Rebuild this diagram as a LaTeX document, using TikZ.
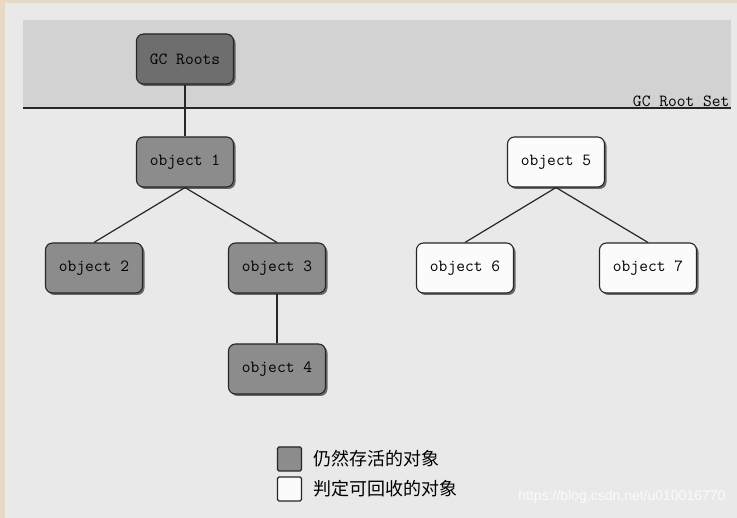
\documentclass[tikz,border=0pt]{standalone}
\usepackage{fontspec}
\newfontfamily\cjk{Noto Sans CJK SC}
\usetikzlibrary{shadows}

\definecolor{pagebeige}{HTML}{E6DAC2}
\definecolor{pagegray}{HTML}{E9E9E9}
\definecolor{rootband}{HTML}{D2D2D2}
\definecolor{rootfill}{HTML}{6E6E6E}
\definecolor{alivefill}{HTML}{8C8C8C}
\definecolor{deadfill}{HTML}{FBFBFB}

\tikzset{
  obj/.style = {draw=black!85, line width=1.1pt, rounded corners=7pt,
                minimum width=97pt, minimum height=50pt,
                font=\ttfamily\fontsize{17}{17}\selectfont,
                drop shadow={shadow xshift=2pt, shadow yshift=-2pt,
                             fill=black!80, opacity=.7}},
  root/.style  = {obj, fill=rootfill},
  alive/.style = {obj, fill=alivefill},
  dead/.style  = {obj, fill=deadfill},
  ref/.style   = {draw=black!85, line width=1.2pt},
  key/.style   = {draw=black!85, line width=1.1pt, rounded corners=1.5pt,
                  minimum size=24pt, inner sep=0pt},
  keytext/.style = {anchor=west, font=\cjk\fontsize{18}{18}\selectfont}
}

\begin{document}
\begin{tikzpicture}[x=1pt, y=-1pt]

	% page and root set band
	\fill[pagebeige] (0,0) rectangle (737,518);
	\fill[pagegray] (5,3) rectangle (737,518);
	\fill[rootband] (23,20) rectangle (731,108);
	\draw[line width=1.3pt, black!85] (23,108) -- (731,108);
	\node[anchor=south east, inner sep=1.5pt, font=\ttfamily\fontsize{17}{17}\selectfont] (rootset) at (731,108) {GC Root Set};

	% objects
	\node[root]  (roots) at (185,59)  {GC Roots};
	\node[alive] (o1)    at (185,162) {object 1};
	\node[alive] (o2)    at (94,268)  {object 2};
	\node[alive] (o3)    at (277,268) {object 3};
	\node[alive] (o4)    at (277,369) {object 4};
	\node[dead]  (o5)    at (556,162) {object 5};
	\node[dead]  (o6)    at (465,268) {object 6};
	\node[dead]  (o7)    at (648,268) {object 7};

	% references
	\draw[ref] (roots) -- (o1);
	\draw[ref] (o1.south) -- (o2.north);
	\draw[ref] (o1.south) -- (o3.north);
	\draw[ref] (o3) -- (o4);
	\draw[ref] (o5.south) -- (o6.north);
	\draw[ref] (o5.south) -- (o7.north);

	% legend
	\node[key, fill=alivefill] (kalive) at (289.5,459) {};
	\node[key, fill=deadfill]  (kdead)  at (289.5,489) {};
	\node[keytext] (talive) at (310,459) {仍然存活的对象};
	\node[keytext] (tdead)  at (310,489) {判定可回收的对象};

	\node[anchor=east, text=white, opacity=.8, font=\fontspec{Liberation Sans}\fontsize{14}{14}\selectfont] (mark) at (729,497) {https://blog.csdn.net/u010016770};

\end{tikzpicture}
\end{document}
